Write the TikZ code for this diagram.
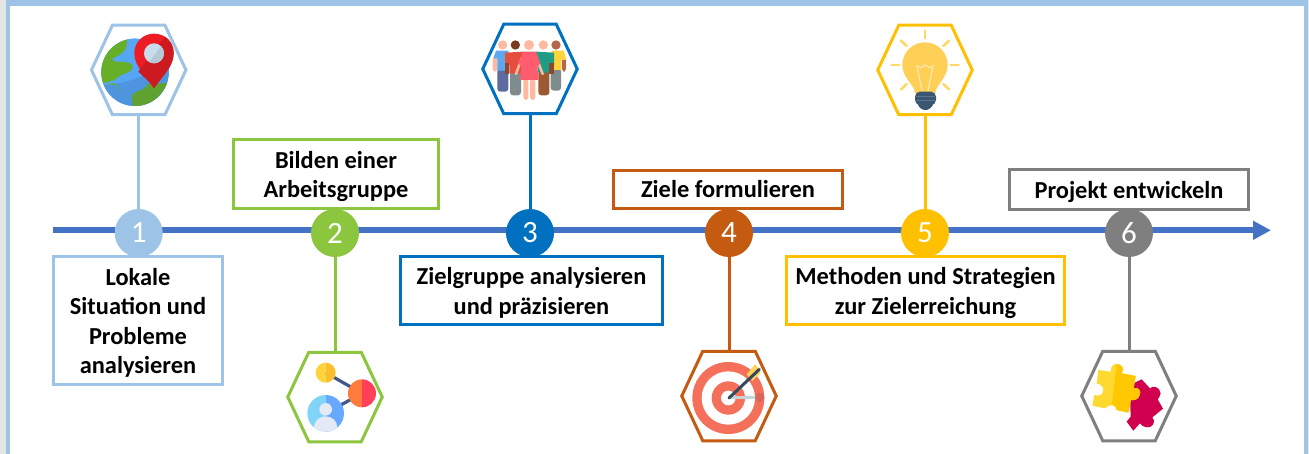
\documentclass[tikz,border=0pt]{standalone}
\usepackage{fontspec}
\setmainfont{Carlito}
\usetikzlibrary{arrows.meta}
\definecolor{cA}{HTML}{9DC3E6}
\definecolor{cB}{HTML}{8CC63F}
\definecolor{cC}{HTML}{0070C0}
\definecolor{cD}{HTML}{C55A11}
\definecolor{cE}{HTML}{FFC000}
\definecolor{cF}{HTML}{7F7F7F}
\definecolor{axisblue}{HTML}{4472C4}
\newcommand{\firstl}{\rule{0pt}{22pt}}
\newcommand{\lastl}{\rule[-6pt]{0pt}{6pt}}
\tikzset{
  HTML/.code={\definecolor{tmpc}{HTML}{#1}\pgfkeysalso{/tikz/color=tmpc}},
  labelbox/.style={draw=#1,line width=3pt,fill=white,align=center,inner sep=0pt,outer sep=0pt,
    font=\fontsize{24.4}{29.5}\selectfont\bfseries,text=black},
  stepdot/.style={circle,fill=#1,minimum size=48pt,inner sep=0pt,outer sep=0pt,text=white,
    font=\fontsize{31}{31}\selectfont},
  hexnode/.style={minimum width=94.5pt,minimum height=89.5pt,inner sep=0pt,outer sep=0pt},
  hexline/.style={draw=#1,line width=3pt,line join=miter,fill=white},
  link/.style={draw=#1,line width=3pt},
}
% half-and-half disc, in local coordinates
\newcommand{\twotone}[5]{%
  \begin{scope}\clip (#1-#3,#2-#3) rectangle (#1,#2+#3);\fill[#4] (#1,#2) circle (#3);\end{scope}%
  \begin{scope}\clip (#1,#2-#3) rectangle (#1+#3,#2+#3);\fill[#5] (#1,#2) circle (#3);\end{scope}}
% hexagon frame around a named node
\newcommand{\hexframe}[2]{%
  \path[hexline=#2] (#1.west) -- ([xshift=21pt]#1.north west) -- ([xshift=-21pt]#1.north east) -- (#1.east)
    -- ([xshift=-21pt]#1.south east) -- ([xshift=21pt]#1.south west) -- cycle;}
\begin{document}
\begin{tikzpicture}[x=1pt,y=-1pt]
\useasboundingbox (0,0) rectangle (1309,454);
\fill[black!10] (0,0) rectangle (1309,454);
\fill[cA] (6,0) rectangle (1308,454);
\fill[white] (10,6) rectangle (1304,454);

% axis
\coordinate (axisstart) at (53,230.3);
\coordinate (axisend) at (1271,230.3);
\draw[axisblue,line width=6pt,-{Triangle[length=18pt,width=18pt]}] (axisstart) -- (axisend);

% icon holders (hexagons)
\node[hexnode] (h1) at (138.7,70) {};
\node[hexnode] (h2) at (335,397) {};
\node[hexnode] (h3) at (530,69) {};
\node[hexnode] (h4) at (729,396) {};
\node[hexnode] (h5) at (925,70) {};
\node[hexnode] (h6) at (1129,396) {};

% step circles
\node[stepdot=cA] (c1) at (138.7,233) {1};
\node[stepdot=cB] (c2) at (335,233) {2};
\node[stepdot=cC] (c3) at (530,233) {3};
\node[stepdot=cD] (c4) at (729,233) {4};
\node[stepdot=cE] (c5) at (925,233) {5};
\node[stepdot=cF] (c6) at (1129,233) {6};

% connectors
\draw[link=cA] (h1.south) -- (c1.north);
\draw[link=cB] (c2.south) -- (h2.north);
\draw[link=cC] (h3.south) -- (c3.north);
\draw[link=cD] (c4.south) -- (h4.north);
\draw[link=cE] (h5.south) -- (c5.north);
\draw[link=cF] (c6.south) -- (h6.north);

\hexframe{h1}{cA}
\hexframe{h2}{cB}
\hexframe{h3}{cC}
\hexframe{h4}{cD}
\hexframe{h5}{cE}
\hexframe{h6}{cF}

% label boxes
\node[labelbox=cA,minimum width=169pt,minimum height=128pt] (b1) at (138,320.5) {\firstl Lokale\\Situation und\\Probleme\\analysieren};
\node[labelbox=cB,minimum width=205pt,minimum height=69pt] (b2) at (336,174) {\firstl Bilden einer\\Arbeitsgruppe};
\node[labelbox=cC,minimum width=262pt,minimum height=68pt] (b3) at (531.5,290.5) {\firstl Zielgruppe analysieren\\und präzisieren};
\node[labelbox=cD,minimum width=229pt,minimum height=38pt] (b4) at (728,189.5) {\firstl Ziele formulieren\lastl};
\node[labelbox=cE,minimum width=278pt,minimum height=68pt] (b5) at (925.5,290.5) {\firstl Methoden und Strategien\\zur Zielerreichung};
\node[labelbox=cF,minimum width=239pt,minimum height=40pt] (b6) at (1129,189.5) {\firstl Projekt entwickeln};

% ---- icon 1: globe and pin
\begin{scope}[scale=1/3]
  \begin{scope}
    \clip (405,217) circle (101);
    \fill[HTML=4F94DF] (300,110) rectangle (510,325);
    \fill[HTML=55A7F5] (300,110) rectangle (510,255);
    \fill[HTML=4F94DF] (310,255) .. controls (400,250) and (470,215) .. (510,170) -- (510,325) -- (300,325) -- cycle;
    \fill[HTML=66AF27] (300,110) -- (382,118) -- (378,145) .. controls (365,170) and (335,170) .. (337,180)
      .. controls (345,190) and (395,180) .. (398,198) .. controls (395,225) and (365,215) .. (345,240)
      -- (300,252) -- cycle;
    \fill[HTML=66AF27] (310,252) -- (345,250) -- (360,280) -- (350,255) -- cycle;
    \fill[HTML=5FA22F] (395,290) .. controls (400,270) and (435,275) .. (445,250)
      .. controls (465,260) and (480,245) .. (510,250) -- (510,325) -- (400,325) -- cycle;
  \end{scope}
  \fill[HTML=ED1C24] (462,265) .. controls (440,230) and (403,200) .. (403,160)
    .. controls (403,125) and (430,101) .. (462,101) .. controls (495,101) and (521,125) .. (521,160)
    .. controls (521,200) and (485,230) .. (462,265) -- cycle;
  \fill[HTML=CC1A20] (462,265) .. controls (485,230) and (521,200) .. (521,160)
    .. controls (521,135) and (508,118) .. (495,110) -- (415,215) .. controls (430,230) and (450,245) .. (462,265) -- cycle;
  \fill[HTML=C8DCEC] (462,160) circle (30);
  \begin{scope}\clip (462,160) circle (30);\fill[HTML=B4C8D6] (440,195) -- (490,130) -- (500,200) -- cycle;\end{scope}
\end{scope}

% ---- icon 2: network
\begin{scope}[shift={(270,340)},scale=1/3]
  \draw[HTML=44568A,line width=3.2pt] (167,98) -- (276,160) -- (167,220);
  \twotone{167}{98}{30}{HTML=FFD43A}{HTML=FBBF2E}
  \twotone{276}{160}{42}{HTML=FF7A3D}{HTML=FF4058}
  \twotone{167}{220}{55}{HTML=7FD4F8}{HTML=66A9FF}
  \begin{scope}
    \clip (167,220) circle (55);
    \fill[HTML=E3E9F5] (167,208) circle (19);
    \fill[HTML=E3E9F5] (167,262) ellipse (35 and 33);
  \end{scope}
\end{scope}

% ---- icon 3: people
\begin{scope}[shift={(460,0)},scale=1/3]
  \fill[HTML=5D6B9E,rounded corners=3pt] (112,205) rectangle (145,275);
  \fill[HTML=FFB9A0,rounded corners=3pt] (98,170) rectangle (112,215);
  \fill[HTML=5FA8F0] (100,175) -- (108,152) -- (145,152) -- (145,212) -- (112,212) -- (112,175) -- cycle;
  \fill[HTML=FFB9A0] (128,135) circle (14);
  \fill[HTML=7F8C8D,rounded corners=3pt] (272,205) rectangle (303,272);
  \fill[HTML=B5664A,rounded corners=3pt] (306,170) rectangle (318,215);
  \fill[HTML=FFD43A] (275,152) -- (312,152) -- (318,180) -- (304,180) -- (304,210) -- (275,210) -- cycle;
  \fill[HTML=B5664A] (288,135) circle (14);
  \fill[HTML=7F8C8D,rounded corners=3pt] (150,212) rectangle (183,286);
  \fill[HTML=E54E3C] (135,158) -- (190,155) -- (186,220) -- (148,220) -- (148,195) -- (135,195) -- cycle;
  \fill[HTML=8A4A30] (134,190) rectangle (147,222);
  \fill[HTML=7A3A1E] (166,135) circle (14);
  \fill[HTML=9C5A32,rounded corners=3pt] (235,212) rectangle (268,286);
  \fill[HTML=1E9C85] (228,155) -- (282,158) -- (282,195) -- (268,195) -- (268,218) -- (234,218) -- cycle;
  \fill[HTML=8A4A30] (268,190) rectangle (281,222);
  \fill[HTML=FFB9A0] (250,135) circle (14);
  \fill[HTML=FFB9A0,rounded corners=3pt] (190,235) rectangle (205,300);
  \fill[HTML=FFB9A0,rounded corners=3pt] (210,235) rectangle (226,300);
  \draw[HTML=FFB9A0,line width=2.6pt,line cap=round] (185,175) -- (168,222);
  \draw[HTML=FFB9A0,line width=2.6pt,line cap=round] (230,175) -- (248,222);
  \fill[HTML=FF5C70] (190,155) -- (228,155) -- (241,190) -- (232,200) -- (236,240) -- (180,240) -- (184,200) -- (175,190) -- cycle;
  \fill[HTML=FFB9A0] (207,135) circle (15);
\end{scope}

% ---- icon 4: target
\begin{scope}[shift={(665,340)},scale=1/3]
  \fill[HTML=F4705A] (190,174) circle (108);
  \fill[white] (190,174) circle (80);
  \fill[HTML=F4705A] (190,174) circle (50);
  \fill[white] (190,174) circle (22);
  \draw[HTML=C8D3DC,line width=3pt] (192,173) -- (285,173);
  \fill[HTML=D9665A] (284,172) circle (14);
  \fill[HTML=FFD25A] (245,103) -- (270,73) -- (285,88) -- (285,100) -- (262,123) -- cycle;
  \draw[HTML=34495E,line width=3pt,line cap=round] (192,174) -- (283,88);
\end{scope}

% ---- icon 5: bulb
\begin{scope}[shift={(860,10)},scale=1/3]
  \foreach \a/\b/\c/\d in {195/62/195/85,95/165/118/165,272/165/296/165,123/92/140/108,267/92/250/108,123/238/140/222,267/238/250/222}
    \draw[HTML=FFD966,line width=2.6pt,line cap=round] (\a,\b) -- (\c,\d);
  \fill[HTML=FFCF56] (165,250) .. controls (165,225) and (127,205) .. (127,165)
    .. controls (127,127) and (157,97) .. (195,97) .. controls (233,97) and (263,127) .. (263,165)
    .. controls (263,205) and (226,225) .. (226,250) -- cycle;
  \draw[HTML=FFE7A8,line width=1.3pt] (186,242) -- (171,168) -- (182,173) -- (195,165) -- (208,173) -- (219,168) -- (204,242);
  \fill[HTML=3A5670,rounded corners=5pt] (165,245) rectangle (228,285);
  \fill[HTML=3A5670] (172,280) -- (221,280) .. controls (215,295) and (205,300) .. (196,300) .. controls (187,300) and (177,295) .. (172,280) -- cycle;
  \draw[HTML=557690,line width=0.8pt] (168,259) -- (225,259) (168,272) -- (225,272);
\end{scope}

% ---- icon 6: puzzle
\begin{scope}[shift={(1065,340)},scale=1/3]
  \fill[HTML=D0004F] (230,118) -- (255,145) .. controls (262,135) and (285,140) .. (287,160)
    .. controls (287,170) and (280,172) .. (278,178) -- (294,206) -- (262,232)
    .. controls (275,245) and (262,265) .. (245,262) .. controls (235,262) and (228,255) .. (225,250)
    -- (205,272) -- (185,245) -- (197,230) -- (195,170) -- (205,130) -- cycle;
  \fill[HTML=FFD930] (100,90) -- (138,95) .. controls (135,80) and (145,72) .. (155,72)
    .. controls (170,72) and (180,85) .. (170,100) -- (212,108) -- (206,145)
    .. controls (220,140) and (228,152) .. (225,162) .. controls (222,178) and (208,182) .. (198,180)
    -- (190,218) -- (155,210) .. controls (155,195) and (130,190) .. (120,205)
    -- (82,197) -- (88,165) .. controls (100,170) and (115,165) .. (115,150)
    .. controls (115,135) and (100,130) .. (95,132) -- cycle;
  \fill[HTML=FFC800] (155,72) .. controls (170,72) and (180,85) .. (170,100) -- (212,108) -- (206,145)
    .. controls (220,140) and (228,152) .. (225,162) .. controls (222,178) and (208,182) .. (198,180)
    -- (190,218) -- (155,210) .. controls (152,200) and (148,192) .. (141,190) -- cycle;
\end{scope}
\end{tikzpicture}
\end{document}
